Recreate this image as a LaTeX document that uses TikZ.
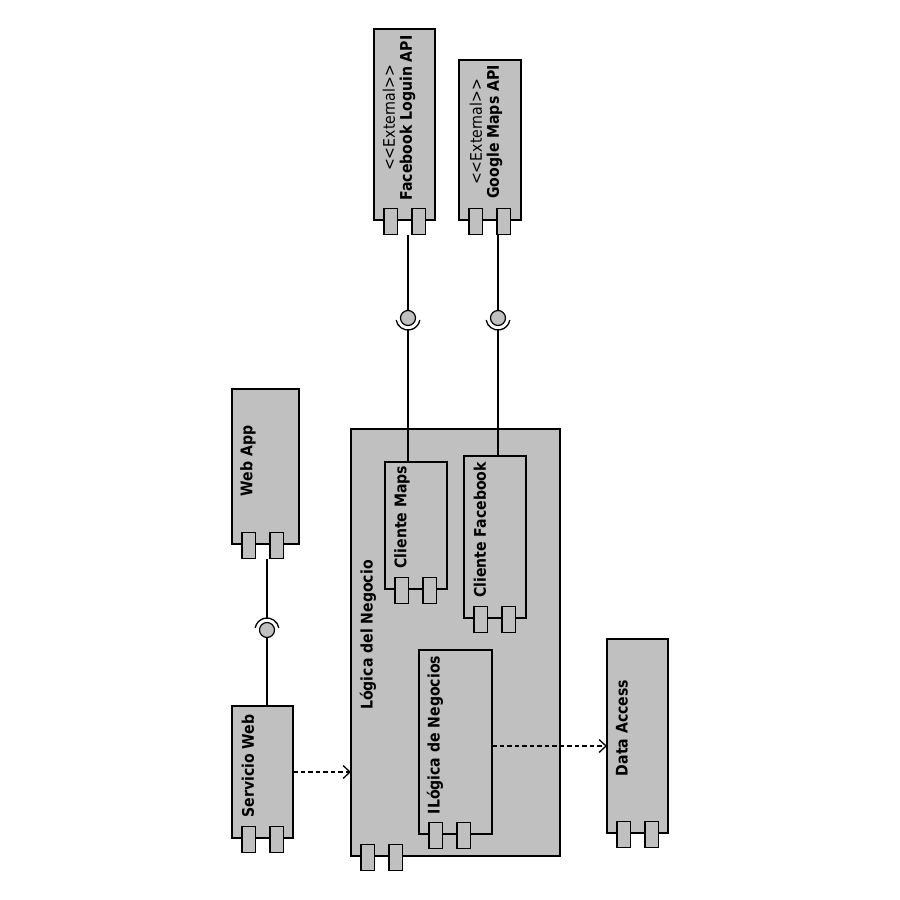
\documentclass[tikz,border=0pt]{standalone}
\usepackage{fontspec}
\setmainfont{DejaVu Sans}[FakeStretch=0.88]
\usetikzlibrary{arrows.meta}
\definecolor{compgray}{RGB}{192,192,192}
\tikzset{
  x=1pt, y=-1pt,
  cbox/.style={draw=black, fill=compgray, line width=1.4pt, inner sep=0pt, outer sep=0pt},
  port/.style={draw=black, fill=compgray, line width=1.2pt, inner sep=0pt, outer sep=0pt,
    minimum width=13.5pt, minimum height=26pt},
  lbl/.style={rotate=90, inner sep=0pt, align=center,
    font=\bfseries\fontsize{16}{17}\selectfont},
  ball/.style={circle, draw=black, fill=compgray, line width=1.2pt, minimum size=15pt, inner sep=0pt},
  wire/.style={draw=black, line width=1.3pt},
  socket/.style={draw=black, line width=1.3pt},
  dep/.style={draw=black, line width=1.3pt, dash pattern=on 4.5pt off 3pt,
    -{Straight Barb[length=7pt,width=13pt,line width=1.3pt]}},
}
% component box with its two port rectangles on the lower edge
% #1 name, #2 left, #3 top, #4 right, #5 bottom
\newcommand\compbox[5]{%
  \node[cbox, anchor=north west, minimum width={#4pt-#2pt}, minimum height={#5pt-#3pt}] (#1) at (#2,#3) {};
  \node[port] (#1-p1) at ([xshift=16.75pt,yshift=-1.5pt]#1.south west) {};
  \node[port] (#1-p2) at ([xshift=44.75pt,yshift=-1.5pt]#1.south west) {};
}
\newcommand\ext{\mdseries <\kern0pt<External>\kern0pt>}
\begin{document}
\begin{tikzpicture}
\useasboundingbox[fill=white] (0,0) rectangle (900,900);

% external services
\compbox{fbapi}{374}{29}{435}{220}
\compbox{gmapi}{459}{60}{521}{220}
\node[lbl] (fbapi-t) at (399,118) {\ext\\Facebook Loguin API};
\node[lbl] (gmapi-t) at (486,132) {\ext\\Google Maps API};

% web front end
\compbox{webapp}{232}{389}{299}{544}
\node[lbl] (webapp-t) at (248,461) {Web App};
\compbox{servweb}{232}{706}{293}{838}
\node[lbl] (servweb-t) at (248,766) {Servicio Web};

% business layer with nested components
\compbox{logica}{351}{429}{560}{856}
\node[lbl] (logica-t) at (368,635) {Lógica del Negocio};
\compbox{climaps}{385}{462}{447}{589}
\node[lbl] (climaps-t) at (402,517) {Cliente Maps};
\compbox{clifb}{464}{456}{526}{618}
\node[lbl] (clifb-t) at (480,530) {Cliente Facebook};
\compbox{ilog}{419}{650}{492}{834}
\node[lbl] (ilog-t) at (435,735) {ILógica de Negocios};

% data layer
\compbox{data}{607}{639}{668}{833}
\node[lbl] (data-t) at (622,728) {Data Access};

% provided / required interfaces
\node[ball] (ballA) at (408,318) {};
\node[ball] (ballB) at (498,318) {};
\node[ball] (ballC) at (267,630) {};

\draw[wire] (ballA |- fbapi-p1.south) -- (ballA.north);
\draw[socket] ([shift={(190:12pt)}]ballA.center) arc[start angle=190, end angle=350, radius=12pt];
\draw[wire] ([yshift=-12pt]ballA.center) -- (ballA |- climaps.north);

\draw[wire] (ballB |- gmapi-p2.south) -- (ballB.north);
\draw[socket] ([shift={(190:12pt)}]ballB.center) arc[start angle=190, end angle=350, radius=12pt];
\draw[wire] ([yshift=-12pt]ballB.center) -- (ballB |- clifb.north);

\draw[wire] (ballC |- webapp-p1.south) -- ([yshift=12pt]ballC.center);
\draw[socket] ([shift={(10:12pt)}]ballC.center) arc[start angle=10, end angle=170, radius=12pt];
\draw[wire] (ballC.south) -- (ballC |- servweb.north);

% dependencies
\draw[dep] (servweb.east) -- (servweb.east -| logica.west);
\draw[dep] ([yshift=-4pt]ilog.east) -- ([yshift=-4pt]ilog.east -| data.west);
\end{tikzpicture}
\end{document}
